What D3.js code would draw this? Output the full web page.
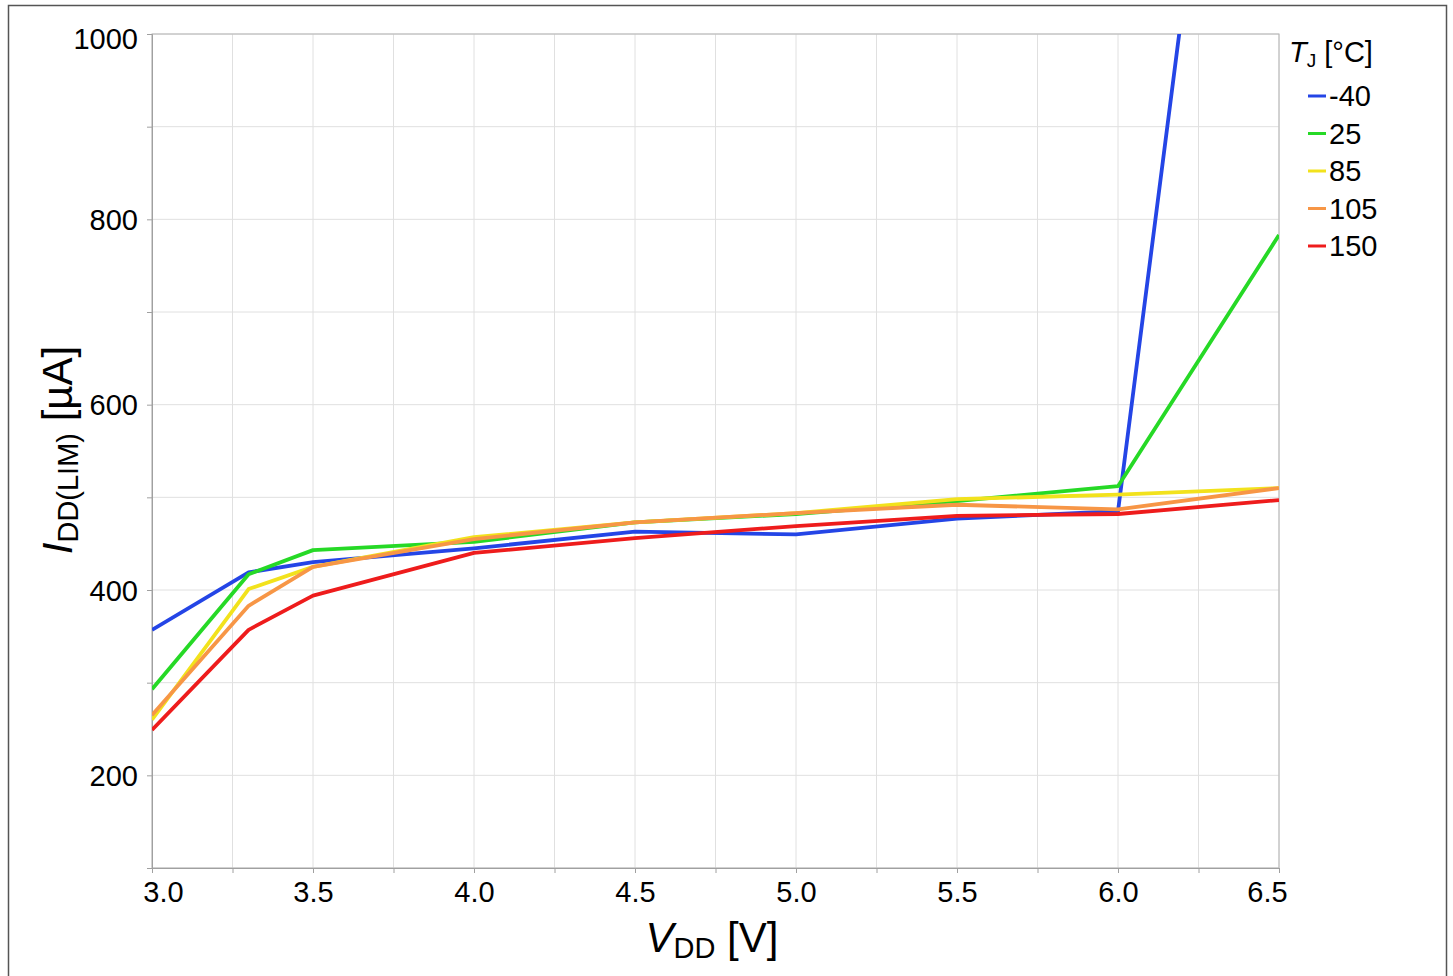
<!DOCTYPE html>
<html>
<head>
<meta charset="utf-8">
<script src="https://cdn.jsdelivr.net/npm/d3@7"></script>
<style>
  body { margin: 0; background: #fff; }
  svg { font-family: "Liberation Sans", Arial, sans-serif; }
</style>
</head>
<body>
<div id="chart"></div>
<script>
// supply voltage points [V]
var vdd = [3.0, 3.3, 3.5, 4.0, 4.5, 5.0, 5.5, 6.0, 6.5];

// IDD(LIM) [uA], one array per junction temperature
var tjLabels = ["-40", "25", "85", "105", "150"];
var iddM40  = [357, 419, 430, 445, 463, 460, 477, 485, 1840];
var idd25   = [293, 417, 443, 452, 473, 482, 496, 512, 783];
var idd85   = [260, 401, 425, 457, 473, 483, 498, 503, 510];
var idd105  = [265, 383, 425, 455, 473, 483, 492, 487, 510];
var idd150  = [249, 357, 394, 440, 456, 469, 480, 482, 497];
var seriesColors = ["#2445e6", "#26d926", "#f2e21c", "#f79646", "#ee1c1c"];

var xTicks = [3.0, 3.5, 4.0, 4.5, 5.0, 5.5, 6.0, 6.5];
var yTicks = [200, 400, 600, 800, 1000];

var W = 1453, H = 976;
var pLeft = 152, pRight = 1279, pTop = 34, pBottom = 868;

var svg = d3.select("#chart").append("svg")
  .attr("width", W)
  .attr("height", H);

// outer frame
svg.append("rect")
  .attr("x", 8.5).attr("y", 5.5)
  .attr("width", 1438).attr("height", 980)
  .attr("fill", "none")
  .attr("stroke", "#555")
  .attr("stroke-width", 1.5);

var x = d3.scaleLinear().domain([3.0, 6.5]).range([pLeft, pRight]);
var y = d3.scaleLinear().domain([100, 1000]).range([pBottom, pTop]);

var xGrid = d3.range(3.0, 6.51, 0.25);
var yGrid = d3.range(100, 1001, 100);

// grid
svg.append("g").selectAll("line").data(xGrid).enter().append("line")
  .attr("x1", function(d){ return x(d); })
  .attr("x2", function(d){ return x(d); })
  .attr("y1", pTop).attr("y2", pBottom)
  .attr("stroke", "#e0e0e0").attr("stroke-width", 1);

svg.append("g").selectAll("line").data(yGrid).enter().append("line")
  .attr("x1", pLeft).attr("x2", pRight)
  .attr("y1", function(d){ return y(d); })
  .attr("y2", function(d){ return y(d); })
  .attr("stroke", "#e0e0e0").attr("stroke-width", 1);

// plot frame
svg.append("rect")
  .attr("x", pLeft).attr("y", pTop)
  .attr("width", pRight - pLeft).attr("height", pBottom - pTop)
  .attr("fill", "none")
  .attr("stroke", "#b4b4b4")
  .attr("stroke-width", 1);

// axes
var xAxis = svg.append("g")
  .attr("transform", "translate(0," + pBottom + ")")
  .call(d3.axisBottom(x).tickValues(xGrid).tickSize(5).tickPadding(8)
    .tickFormat(function(d){ return xTicks.indexOf(+d.toFixed(2)) >= 0 ? d3.format(".1f")(d) : ""; }));
xAxis.select(".domain").attr("stroke", "#a0a0a0");
xAxis.selectAll(".tick line").attr("stroke", "#a0a0a0");
xAxis.selectAll(".tick text")
  .attr("fill", "#000")
  .style("font-size", "29px")
  .attr("dx", function(d){ return d === 3.0 ? 11 : (Math.abs(d - 6.5) < 1e-6 ? -12 : 0); });

var yAxis = svg.append("g")
  .attr("transform", "translate(" + pLeft + ",0)")
  .call(d3.axisLeft(y).tickValues(yGrid).tickSize(5).tickPadding(9)
    .tickFormat(function(d){ return yTicks.indexOf(d) >= 0 ? d : ""; }));
yAxis.select(".domain").attr("stroke", "#a0a0a0");
yAxis.selectAll(".tick line").attr("stroke", "#a0a0a0");
yAxis.selectAll(".tick text")
  .attr("fill", "#000")
  .style("font-size", "29px")
  .attr("dy", function(d){ return d === 1000 ? "0.5em" : "0.35em"; });

// axis titles
var xt = svg.append("text")
  .attr("x", 712).attr("y", 952)
  .attr("text-anchor", "middle")
  .style("font-size", "42px");
xt.append("tspan").style("font-style", "italic").text("V");
xt.append("tspan").attr("dy", 6).style("font-size", "29px").text("DD");
xt.append("tspan").attr("dy", -6).text(" [V]");

var yt = svg.append("text")
  .attr("transform", "translate(72,450) rotate(-90)")
  .attr("text-anchor", "middle")
  .style("font-size", "42px");
yt.append("tspan").style("font-style", "italic").text("I");
yt.append("tspan").attr("dy", 6).style("font-size", "29px").text("DD(LIM)");
yt.append("tspan").attr("dy", -6).text(" [µA]");

// lines
svg.append("clipPath").attr("id", "plotClip")
  .append("rect")
  .attr("x", pLeft).attr("y", pTop)
  .attr("width", pRight - pLeft).attr("height", pBottom - pTop);

var allSeries = [iddM40, idd25, idd85, idd105, idd150];
var line = d3.line()
  .x(function(d, i){ return x(vdd[i]); })
  .y(function(d){ return y(d); });

var lines = svg.append("g").attr("clip-path", "url(#plotClip)");
allSeries.forEach(function(s, k){
  lines.append("path")
    .datum(s)
    .attr("d", line)
    .attr("fill", "none")
    .attr("stroke", seriesColors[k])
    .attr("stroke-width", 3.8)
    .attr("stroke-linejoin", "round");
});

// legend
var lt = svg.append("text")
  .attr("x", 1289).attr("y", 62)
  .style("font-size", "29px");
lt.append("tspan").style("font-style", "italic").text("T");
lt.append("tspan").attr("dy", 5).style("font-size", "19px").text("J");
lt.append("tspan").attr("dy", -5).text(" [°C]");

tjLabels.forEach(function(t, k){
  var ly = 96 + k * 37.5;
  svg.append("line")
    .attr("x1", 1308).attr("x2", 1326)
    .attr("y1", ly).attr("y2", ly)
    .attr("stroke", seriesColors[k])
    .attr("stroke-width", 3);
  svg.append("text")
    .attr("x", 1329).attr("y", ly)
    .attr("dy", "0.35em")
    .style("font-size", "29px")
    .text(t);
});
</script>
</body>
</html>
